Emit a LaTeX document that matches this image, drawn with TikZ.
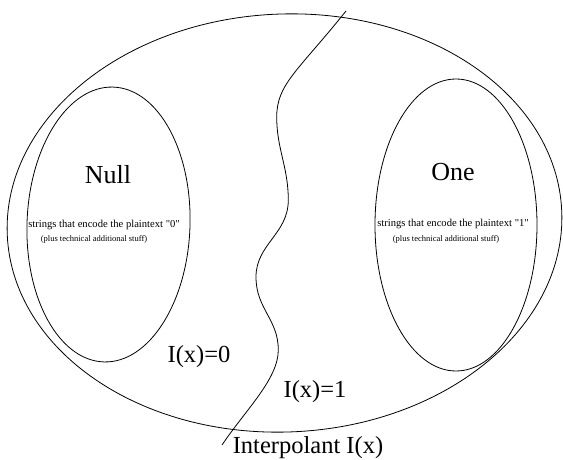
\documentclass[tikz,border=0pt]{standalone}
\usepackage{fontspec}
\setmainfont{Liberation Serif}[Ligatures=TeXOff]
\begin{document}
\begin{tikzpicture}[x=1pt,y=1pt,
  shape line/.style={draw=black,line width=0.8pt},
  bigtext/.style={font=\fontsize{26}{30}\selectfont,anchor=base,inner sep=0pt},
  labtext/.style={font=\fontsize{24.5}{28}\selectfont,anchor=base,inner sep=0pt},
  smalltext/.style={font=\fontsize{10.6}{12}\selectfont,anchor=base,inner sep=0pt},
  tinytext/.style={font=\fontsize{8.5}{10}\selectfont,anchor=base,inner sep=0pt}]
\useasboundingbox (0,0) rectangle (563,459);
% outer set
\draw[shape line,rotate around={2.5:(284.5,236)}] (284.5,236) ellipse [x radius=277.5, y radius=209];
% Null set
\draw[shape line,rotate around={-2:(108.5,234.5)}] (108.5,234.5) ellipse [x radius=81.5, y radius=137.5];
% One set
\draw[shape line] (456,234) ellipse [x radius=81, y radius=146];
% interpolant curve
\coordinate (c0) at (346,448);
\coordinate (c1) at (276.7,342);
\coordinate (c2) at (288.3,259);
\coordinate (c3) at (256,182);
\coordinate (c4) at (278.3,109);
\coordinate (c5) at (222,14);
\draw[shape line] (c0) .. controls (298,388) and (276.7,375) .. (c1)
  .. controls (276.7,310) and (288.3,292) .. (c2)
  .. controls (288.3,225) and (256,215) .. (c3)
  .. controls (256,150) and (278.3,140) .. (c4)
  .. controls (278.3,80) and (245.5,49) .. (c5);
% texts
\node[bigtext] (null) at (108,276) {Null};
\node[smalltext] (s0) at (104,232) {strings that encode the plaintext "0"};
\node[tinytext] (p0) at (94,218) {(plus technical additional stuff)};
\node[bigtext] (one) at (453,279) {One};
\node[smalltext] (s1) at (453,233) {strings that encode the plaintext "1"};
\node[tinytext] (p1) at (446,217.5) {(plus technical additional stuff)};
\node[labtext] (i0) at (199,97) {I(x)=0};
\node[labtext] (i1) at (315,62) {I(x)=1};
\node[labtext] (interp) at (308,6) {Interpolant I(x)};
\end{tikzpicture}
\end{document}
